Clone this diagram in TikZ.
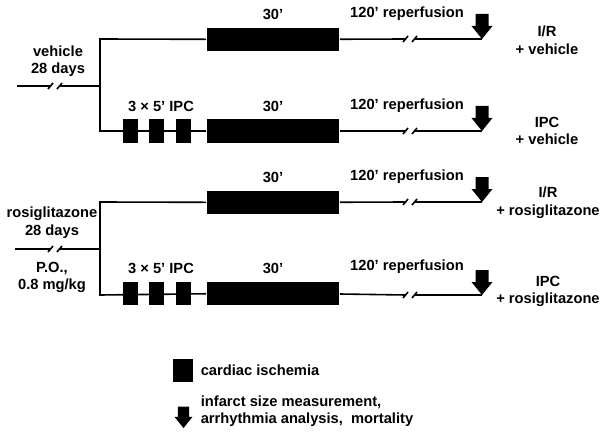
\documentclass[tikz,border=0pt]{standalone}
\usepackage{fontspec}
\setmainfont{Liberation Sans}
\begin{document}
\begin{tikzpicture}[x=1pt,y=-1pt,line width=1.6pt,
	every node/.style={font=\fontsize{14.7}{17.5}\selectfont\bfseries,inner sep=0pt},
	isch/.style={fill=black,minimum width=132pt,minimum height=23pt},
	ipc/.style={fill=black,minimum width=15pt,minimum height=23pt},
	lbl/.style={align=center},
	endmark/.pic={\fill (-6.5,-25)--(6.5,-25)--(6.5,-13)--(10.5,-13)--(0,0)--(-10.5,-13)--(-6.5,-13)--cycle;},
	brk/.pic={\draw (-7,3)--(-2,-3); \draw (2,3)--(7,-3);}]
	\useasboundingbox (0,0) rectangle (607,433);
	% vehicle
	\coordinate (s1) at (17,86);
	\coordinate (m1) at (100,86);
	\coordinate (j1) at (100,39);
	\coordinate (j2) at (100,131);
	\node[isch] (box1) at (273,39.5){};
	\node[isch] (box2) at (273,131){};
	\foreach \i/\x in {1/130,2/156,3/183}{
		\node[ipc] (p2\i) at (\x,131){};
	}
	\draw (s1)--(51,86) coordinate (b1l);
	\draw (59,86) coordinate (b1r)--(m1);
	\pic at (55,86) {brk};
	\draw (box1)--(j1)--(j2)--(box2);
	\coordinate (e1) at (482,39);
	\coordinate (e2) at (482,131);
	\draw (box1)--(406,39) coordinate (r1l);
	\draw (414,39) coordinate (r1r)--(e1);
	\pic at (410,39) {brk};
	\draw (box2)--(406,131) coordinate (r2l);
	\draw (414,131) coordinate (r2r)--(e2);
	\pic at (410,131) {brk};
	\pic at (e1) {endmark};
	\pic at (e2) {endmark};
	% rosiglitazone
	\coordinate (s2) at (15,249);
	\coordinate (m2) at (100,249);
	\coordinate (j3) at (100,202);
	\coordinate (j4) at (100,295);
	\node[isch] (box3) at (273,202.5){};
	\node[isch] (box4) at (273,293){};
	\foreach \i/\x in {1/130,2/156,3/183}{
		\node[ipc] (p4\i) at (\x,293){};
	}
	\draw (s2)--(51,249) coordinate (b2l);
	\draw (59,249) coordinate (b2r)--(m2);
	\pic at (55,249) {brk};
	\draw (box3)--(j3)--(j4)--(box4);
	\coordinate (e3) at (482,202);
	\coordinate (e4) at (482,295);
	\draw (box3)--(406,202) coordinate (r3l);
	\draw (414,202) coordinate (r3r)--(e3);
	\pic at (410,202) {brk};
	\draw (box4)--(406,295) coordinate (r4l);
	\draw (414,295) coordinate (r4r)--(e4);
	\pic at (410,295) {brk};
	\pic at (e3) {endmark};
	\pic at (e4) {endmark};
	% labels
	\node (t1) at (273,14){30’};
	\node (t2) at (273,106){30’};
	\node (t3) at (273,177){30’};
	\node (t4) at (273,268){30’};
	\node (i2) at (161,106){3 × 5’ IPC};
	\node (i4) at (161,268){3 × 5’ IPC};
	\node (f1) at (407,14){120’ reperfusion};
	\node (f2) at (407,106){120’ reperfusion};
	\node (f3) at (407,177){120’ reperfusion};
	\node (f4) at (407,267){120’ reperfusion};
	\node[lbl] (veh) at (58,61){vehicle\\28 days};
	\node[lbl] (ros) at (52,222.5){rosiglitazone\\28 days};
	\node[lbl] (po) at (52,277.5){P.O.,\\0.8 mg/kg};
	\node[lbl] (g1) at (547,40){I/R\\+ vehicle};
	\node[lbl] (g2) at (547,131){IPC\\+ vehicle};
	\node[lbl] (g3) at (548,202.5){I/R\\+ rosiglitazone};
	\node[lbl] (g4) at (548,291.5){IPC\\+ rosiglitazone};
	% legend
	\node[fill=black,minimum width=20pt,minimum height=23pt] (lbox) at (183,370.5){};
	\node[anchor=west] (ltxt) at (200,370){cardiac ischemia};
	\pic[scale=0.86] at (183.5,428) {endmark};
	\node[anchor=west,align=left] (larr) at (200,411){infarct size measurement,\\arrhythmia analysis,\ \ mortality};
\end{tikzpicture}
\end{document}
